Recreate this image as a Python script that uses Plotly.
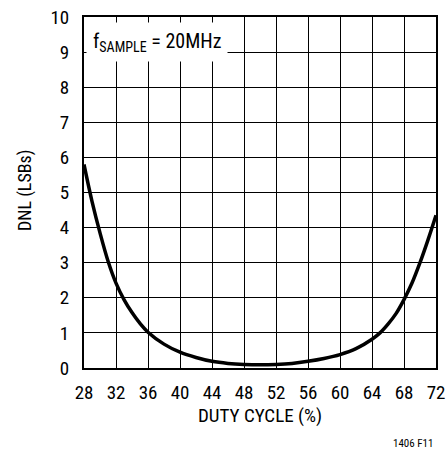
import plotly.graph_objects as go

duty = [28, 29, 30, 31, 32, 33, 34, 35, 36, 38, 40, 42, 44, 46, 48, 50, 52, 54, 56, 58, 60, 62, 64, 65, 66, 67, 68, 69, 70, 71, 72]
dnl = [5.8, 4.75, 3.85, 3.05, 2.42, 1.95, 1.58, 1.27, 1.02, 0.68, 0.45, 0.3, 0.19, 0.13, 0.1, 0.09, 0.1, 0.13, 0.19, 0.27, 0.38, 0.55, 0.82, 1.0, 1.25, 1.55, 1.95, 2.42, 3.0, 3.65, 4.35]
x_ticks = list(range(28, 73, 4))
y_ticks = list(range(0, 11, 1))

FONT = "Liberation Sans Narrow, Roboto Condensed, DejaVu Sans Condensed, Arial Narrow, sans-serif"

fig = go.Figure()
fig.add_trace(go.Scatter(x=duty, y=dnl, mode="lines",
                         line=dict(color="black", width=3.5, shape="spline", smoothing=1.0),
                         hoverinfo="skip", showlegend=False))

fig.update_layout(
    template="none",
    width=447, height=450,
    margin=dict(l=84, r=11, t=17, b=82, autoexpand=False),
    paper_bgcolor="white", plot_bgcolor="white",
    font=dict(family=FONT, color="black", size=19),
    showlegend=False,
)
fig.update_xaxes(range=[28, 72], tickvals=x_ticks, ticktext=[str(t) for t in x_ticks],
                 showgrid=True, gridcolor="black", gridwidth=1,
                 showline=True, linecolor="black", linewidth=2, mirror=True,
                 ticks="", zeroline=False, ticklabelstandoff=6, automargin=False,
                 ticklabeloverflow="allow",
                 tickfont=dict(size=19, family=FONT))
fig.update_yaxes(range=[0, 10], tickvals=y_ticks, ticktext=[str(t) for t in y_ticks],
                 showgrid=True, gridcolor="black", gridwidth=1,
                 showline=True, linecolor="black", linewidth=2, mirror=True,
                 ticks="", zeroline=False, ticklabelstandoff=9, automargin=False,
                 ticklabeloverflow="allow",
                 tickfont=dict(size=19, family=FONT))

fig.add_annotation(xref="paper", yref="paper", x=-0.168, y=0.507, text="DNL (LSBs)",
                   showarrow=False, textangle=-90, font=dict(size=18, family=FONT),
                   xanchor="center", yanchor="middle")
fig.add_annotation(xref="paper", yref="paper", x=0.5, y=-0.134,
                   text="DUTY CYCLE (%)", showarrow=False, font=dict(size=19, family=FONT),
                   xanchor="center", yanchor="middle")
fig.add_annotation(xref="paper", yref="paper", x=0.935, y=-0.214,
                   text="1406 F11", showarrow=False, font=dict(size=11, family=FONT),
                   xanchor="center", yanchor="middle")
fig.add_annotation(xref="paper", yref="paper", x=0.006, y=0.929,
                   xanchor="left", yanchor="middle",
                   text="f<sub>SAMPLE</sub> = 20MHz", showarrow=False,
                   bgcolor="white", borderpad=6, font=dict(size=20, family=FONT))

fig.write_html("out.html",
               config={"displayModeBar": False},
               post_script="document.body.style.margin='0';document.body.style.overflow='hidden';")
